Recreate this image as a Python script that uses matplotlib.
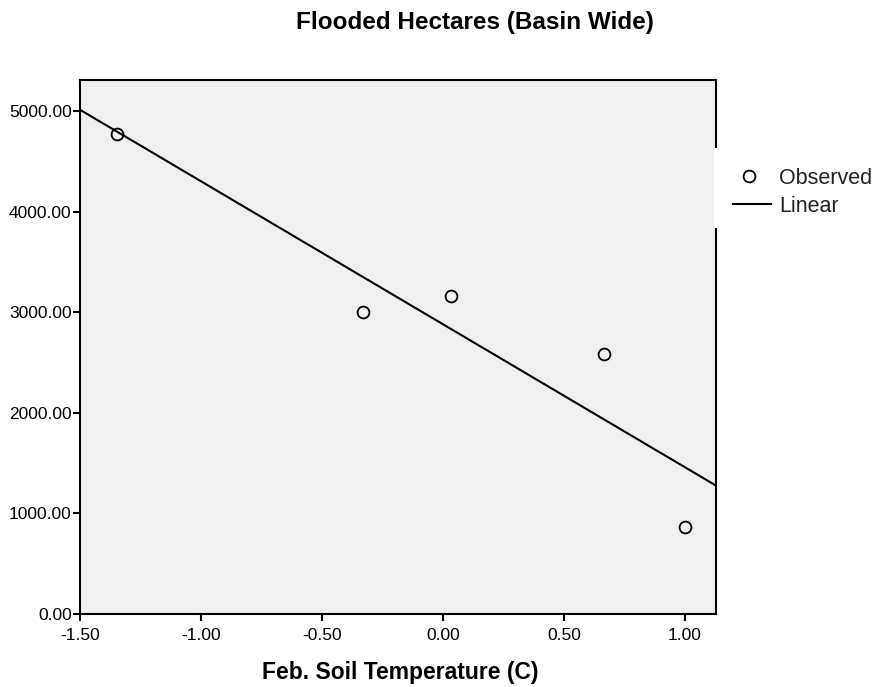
import numpy as np
import matplotlib.pyplot as plt
from matplotlib.patches import Rectangle
from matplotlib.lines import Line2D

plt.rcParams['font.family'] = ['Liberation Sans', 'DejaVu Sans']

# podaci procitani sa grafika
soil_temp = [-1.347, -0.331, 0.033, 0.665, 1.0]
flooded_ha = [4767, 3000, 3158, 2582, 864]
xticks = [-1.5, -1.0, -0.5, 0.0, 0.5, 1.0]
yticks = [0, 1000, 2000, 3000, 4000, 5000]
xlim = (-1.5, 1.128)
ylim = (0, 5308)

# linearni fit
slope, intercept = np.polyfit(soil_temp, flooded_ha, 1)
xl = np.array(xlim)
yl = intercept + slope*xl

fig = plt.figure(figsize=(8.78, 6.87), dpi=100)
ax = fig.add_axes([80/878, 1-614/687, (716-80)/878, (614-80)/687])
ax.set_facecolor('#f0f0f0')

ax.plot(xl, yl, color='black', lw=1.5, zorder=2)
ax.plot(soil_temp, flooded_ha, 'o', mfc='none', mec='black', ms=8.5, mew=1.3, zorder=3)

ax.set_xlim(*xlim)
ax.set_ylim(*ylim)
ax.set_xticks(xticks)
ax.set_yticks(yticks)
ax.set_xticklabels([f"{v:.2f}" for v in xticks])
ax.set_yticklabels([f"{v:.2f}" for v in yticks])
ax.tick_params(direction='out', length=5, width=1.5, labelsize=12.5, pad=1, colors='black')
ax.tick_params(axis='x', pad=5)
for s in ax.spines.values():
    s.set_linewidth(1.5)

fig.text(475/878, 1-23/687, "Flooded Hectares (Basin Wide)", ha='center', va='center',
         fontsize=17.5, fontweight='bold')
fig.text(400/878, 1-672/687, "Feb. Soil Temperature (C)", ha='center', va='center',
         fontsize=16.5, fontweight='bold')

# legenda (bela kutija preko desne ivice)
fig.patches.append(Rectangle((714/878, 1-228/687), (878-714)/878, 80/687,
                             transform=fig.transFigure, facecolor='white',
                             edgecolor='none', zorder=5))
fig.lines.append(Line2D([749/878], [1-176/687], marker='o', mfc='none', mec='black',
                        ms=8.5, mew=1.3, transform=fig.transFigure, zorder=6))
fig.lines.append(Line2D([733/878, 771/878], [1-204/687, 1-204/687], color='black',
                        lw=1.5, transform=fig.transFigure, zorder=6))
fig.text(779/878, 1-179/687, "Observed", ha='left', va='center', fontsize=15.5, color='#222222', zorder=6)
fig.text(779/878, 1-206/687, "Linear", ha='left', va='center', fontsize=15.5, color='#222222', zorder=6)

fig.savefig('out.png', dpi=100)
